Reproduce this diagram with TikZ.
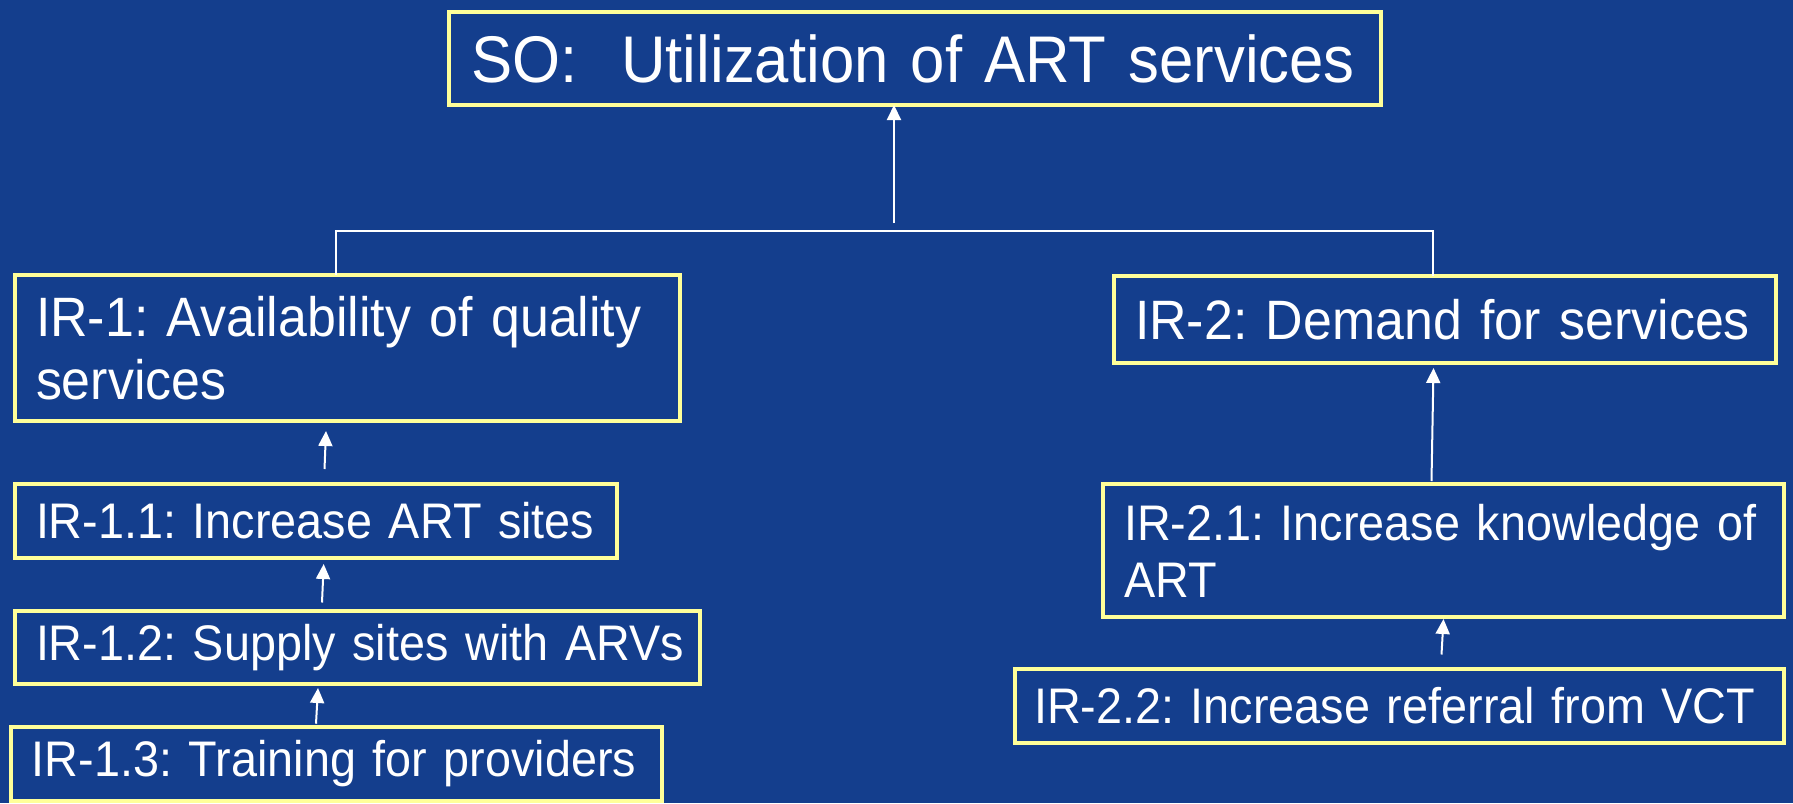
\documentclass[tikz,border=0pt]{standalone}
\usepackage{fontspec}
\setmainfont{Liberation Sans}[FakeStretch=0.935]
\usetikzlibrary{arrows.meta}
\definecolor{slideblue}{RGB}{20,62,141}
\definecolor{boxyellow}{RGB}{255,255,153}

\begin{document}
\frenchspacing
\begin{tikzpicture}[x=0.5pt, y=-0.5pt,
    box/.style={draw=boxyellow, line width=2pt, fill=slideblue, text=white,
      anchor=north west, align=left, inner xsep=10.5pt, inner ysep=0pt, outer sep=0pt},
    big/.style={font=\fontsize{33pt}{38pt}\selectfont},
    mid/.style={font=\fontsize{27.75pt}{31.6pt}\selectfont},
    small/.style={font=\fontsize{25pt}{28.5pt}\selectfont},
    wire/.style={draw=white, line width=1pt},
    arr/.style={wire, -{Triangle[length=7.5pt,width=7pt]}}]
  \fill[slideblue] (0,0) rectangle (1793,803);
  \useasboundingbox (0,0) rectangle (1793,803);

  \node[box, big, text width=444pt, minimum height=46.5pt, inner xsep=11pt] (SO) at (449,12) {\mbox{SO:\ \ Utilization of ART services}};

  \node[box, mid, text width=311.5pt, minimum height=73pt] (IR1) at (15,275) {\mbox{IR-1: Availability of quality}\\services};
  \node[box, small, text width=280pt, minimum height=37pt] (IR11) at (15,484) {\mbox{IR-1.1: Increase ART sites}};
  \node[box, small, text width=321.5pt, minimum height=36.5pt] (IR12) at (15,611) {\mbox{IR-1.2: Supply sites with ARVs}};
  \node[box, small, text width=304.5pt, minimum height=37pt] (IR13) at (11,727) {\mbox{IR-1.3: Training for providers}};

  \node[box, mid, text width=310pt, minimum height=43.5pt] (IR2) at (1114,276) {\mbox{IR-2: Demand for services}};
  \node[box, small, text width=319.5pt, minimum height=66.5pt] (IR21) at (1103,484) {\mbox{IR-2.1: Increase knowledge of}\\ART};
  \node[box, small, text width=365.5pt, minimum height=37pt, inner xsep=9.5pt] (IR22) at (1015,669) {\mbox{IR-2.2: Increase referral from VCT}};

  \coordinate (junc) at (894,223);
  \coordinate (splitL) at (336,231);
  \coordinate (splitR) at (1433,231);

  \draw[arr] (junc) -- ([xshift=-10.5pt]SO.south);
  \draw[wire] (IR1.north -| splitL) -- (splitL) -- (splitR) -- (IR2.north -| splitR);

  \draw[arr] ([xshift=4.25pt,yshift=7.5pt]IR11.north) -- ([xshift=-10.75pt,yshift=-5pt]IR1.south);
  \draw[arr] ([xshift=-17.75pt,yshift=4.25pt]IR12.north) -- ([xshift=3.85pt,yshift=-3pt]IR11.south);
  \draw[arr] ([xshift=-10.25pt,yshift=1.65pt]IR13.north) -- ([xshift=-19.75pt,yshift=-2pt]IR12.south);

  \draw[arr] ([xshift=-6pt,yshift=1.5pt]IR21.north) -- ([xshift=-5.75pt,yshift=-2.5pt]IR2.south);
  \draw[arr] ([xshift=21pt,yshift=7.25pt]IR22.north) -- ([yshift=-1pt]IR21.south);
\end{tikzpicture}
\end{document}
